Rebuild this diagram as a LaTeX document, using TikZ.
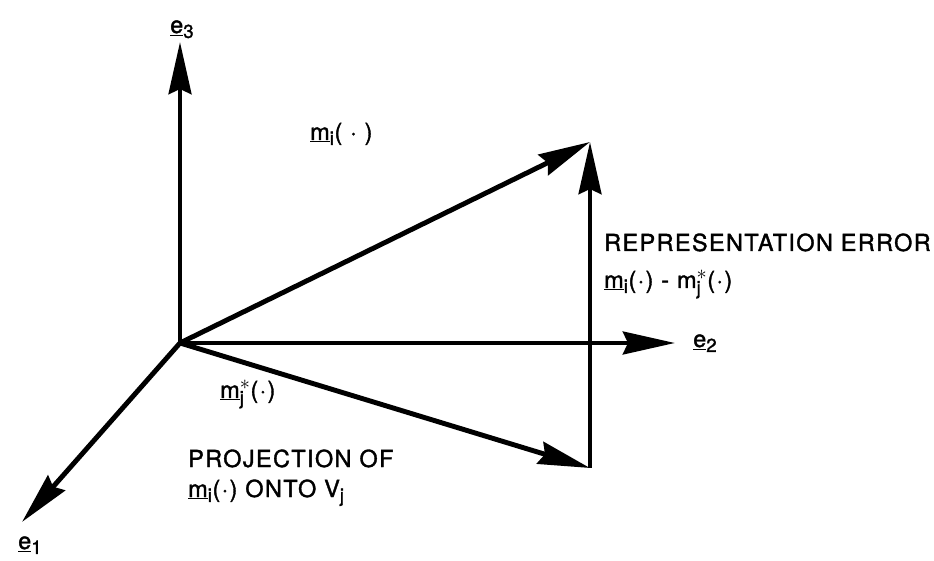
\documentclass[tikz,border=0pt]{standalone}
\usepackage{fontspec}
\setmainfont{TeX Gyre Heros}[LetterSpace=6,FakeBold=1.5]
\usepackage{tikz}
\usetikzlibrary{arrows.meta,positioning}
\DeclareMathSizes{20}{20}{16}{12}
\newcommand{\uvec}[1]{\underline{#1}}
\newcommand{\sub}[1]{$_{\mathrm{#1}}$}
\newcommand{\subsup}[2]{$^{#2}_{\mathrm{#1}}$}
\newcommand{\pdot}{(\textperiodcentered)}
\tikzset{
  vec/.style={
    -{Stealth[length=1.56cm,width=0.68cm,inset=0.15cm]},
    line width=4.2pt
  },
  lbl/.style={
    inner sep=0pt, anchor=base west,
    font=\fontsize{20}{24}\selectfont
  }
}
\begin{document}
\begin{tikzpicture}[x=0.03cm, y=0.03cm]
    \useasboundingbox (0,0) rectangle (934,560);
    % axes
    \coordinate (O) at (180,217);
    \coordinate (e3tip) at (180,518);
    \coordinate (e2tip) at (675,217);
    \coordinate (e1tip) at (22,38);
    % vectors
    \coordinate (mi) at (590,418);
    \coordinate (mj) at (590,92);
    \draw[vec] (O) -- (e3tip);
    \draw[vec] (O) -- (e2tip);
    \draw[vec] (O) -- (e1tip);
    \draw[vec] (O) -- (mi);
    \draw[vec] (O) -- (mj);
    \draw[vec] (mj) -- (mi);
    % labels
    \node[lbl] (e3lbl) at (170,527) {\uvec{e}\sub{3}};
    \node[lbl] (e2lbl) at (693,213) {\uvec{e}\sub{2}};
    \node[lbl] (e1lbl) at (18,11) {\uvec{e}\sub{1}};
    \node[lbl] (milbl) at (310,420) {\uvec{m}\sub{i}( \textperiodcentered\ )};
    \node[lbl] (errlbl) at (604,309) {REPRESENTATION ERROR};
    \node[lbl] (difflbl) at (604,272)
      {\uvec{m}\sub{i}\pdot\ - m\subsup{j}{*}\pdot};
    \node[lbl] (mjlbl) at (220,162) {\uvec{m}\subsup{j}{*}\pdot};
    \node[lbl] (projlbl) at (188,93) {PROJECTION OF};
    \node[lbl] (ontolbl) at (188,63) {\uvec{m}\sub{i}\pdot\ ONTO V\sub{j}};
  \end{tikzpicture}
\end{document}
